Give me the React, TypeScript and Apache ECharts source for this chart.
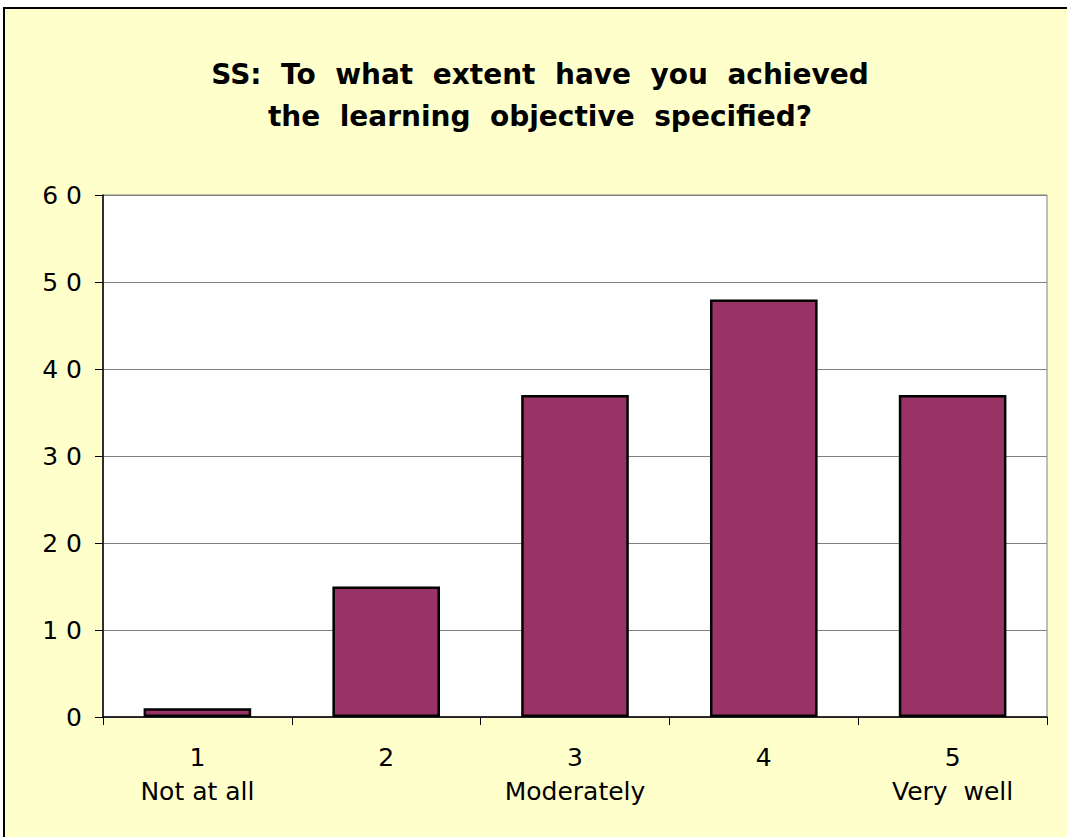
import React, { useEffect, useRef } from "react";
import * as echarts from "echarts";

const categories = ["1\nNot at all", "2", "3\nModerately", "4", "5\nVery  well"];
const values = [1, 15, 37, 48, 37];
const titleLines = ["SS:  To  what  extent  have  you  achieved", "the  learning  objective  specified?"];

const FONT = "DejaVu Sans, Liberation Sans, Arial, sans-serif";

export default function App() {
  const ref = useRef<HTMLDivElement>(null);
  useEffect(() => {
    const chart = echarts.init(ref.current!, null, { renderer: "svg" });
    chart.setOption({
      animation: false,
      backgroundColor: "#FFFFCC",
      title: {
        text: titleLines.join("\n"),
        left: 530,
        textAlign: "center",
        top: 39,
        textStyle: {
          fontFamily: FONT,
          fontWeight: "bold",
          fontSize: 28,
          lineHeight: 42,
          color: "#000",
        },
      },
      grid: {
        left: 98,
        top: 186,
        right: 20,
        bottom: 120,
        show: true,
        backgroundColor: "#FFFFFF",
        borderColor: "#808080",
        borderWidth: 1,
      },
      xAxis: {
        type: "category",
        data: categories,
        axisLine: { lineStyle: { color: "#000", width: 1.5 } },
        axisTick: { show: true, length: 8, alignWithLabel: false, lineStyle: { color: "#000" } },
        axisLabel: {
          margin: 23,
          fontFamily: FONT,
          fontSize: 25,
          lineHeight: 34,
          color: "#000",
        },
      },
      yAxis: {
        type: "value",
        min: 0,
        max: 60,
        interval: 10,
        axisLine: { show: true, lineStyle: { color: "#000", width: 1.5 } },
        axisTick: { show: true, length: 8, lineStyle: { color: "#000" } },
        splitLine: { show: true, lineStyle: { color: "#808080", width: 1 } },
        axisLabel: {
          margin: 21,
          fontFamily: FONT,
          fontSize: 25,
          color: "#000",
          formatter: (v: number) => String(v).split("").join(" "),
        },
      },
      series: [
        {
          type: "bar",
          data: values,
          barWidth: "57%",
          itemStyle: { color: "#993366", borderColor: "#000", borderWidth: 2.5 },
        },
      ],
    });
    return () => chart.dispose();
  }, []);
  return (
    <div
      style={{
        position: "absolute",
        left: 3,
        top: 7,
        width: 1064,
        height: 830,
        borderLeft: "2px solid #000",
        borderTop: "2px solid #000",
        boxSizing: "border-box",
      }}
    >
      <div ref={ref} style={{ width: 1062, height: 828 }} />
    </div>
  );
}
